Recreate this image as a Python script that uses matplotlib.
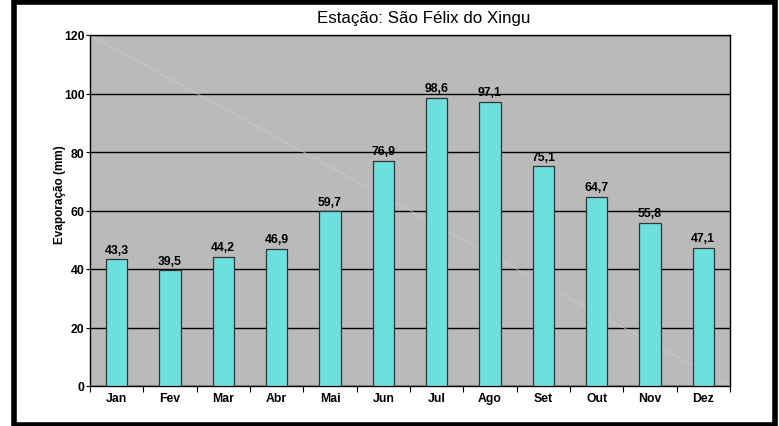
import matplotlib
matplotlib.use("Agg")
import matplotlib.pyplot as plt
from matplotlib.patches import Rectangle

months = ["Jan", "Fev", "Mar", "Abr", "Mai", "Jun", "Jul", "Ago", "Set", "Out", "Nov", "Dez"]
values = [43.3, 39.5, 44.2, 46.9, 59.7, 76.9, 98.6, 97.1, 75.1, 64.7, 55.8, 47.1]
labels = ["43,3", "39,5", "44,2", "46,9", "59,7", "76,9", "98,6", "97,1", "75,1", "64,7", "55,8", "47,1"]
yticks = [0, 20, 40, 60, 80, 100, 120]

plt.rcParams['font.family'] = ['Liberation Sans', 'DejaVu Sans']

W, H = 779, 427
fig = plt.figure(figsize=(W / 100, H / 100), dpi=100)
fig.patch.set_facecolor("white")

# outer black frame
fig.patches.append(Rectangle((14 / W, 1.5 / H), (775 - 14) / W, (H - 4) / H, transform=fig.transFigure,
                             fill=False, edgecolor="black", linewidth=4.0, zorder=10))

left, right, top, bottom = 90, 730, 36, 387
ax = fig.add_axes([left / W, 1 - bottom / H, (right - left) / W, (bottom - top) / H])
ax.set_facecolor("#BABABA")

x = list(range(len(months)))
ax.set_xlim(-0.5, len(months) - 0.5)
ax.set_ylim(0, 120)

# faint diagonal artifact
ax.plot([0, 1], [1, 0], transform=ax.transAxes, color="#CDCDCD", lw=0.5, zorder=1)

ax.set_yticks(yticks)
ax.yaxis.grid(True, color="black", linewidth=1.0, zorder=1.5)
ax.set_axisbelow(True)

bars = ax.bar(x, values, width=0.4, color="#6EDFDF", edgecolor="#333333", linewidth=0.9, zorder=3)
for xi, v, lab in zip(x, values, labels):
    ax.text(xi, v + 1.3, lab, ha="center", va="bottom", fontsize=8.8, fontweight="bold", zorder=4)

ax.set_xticks(x)
ax.set_xticklabels(months, fontsize=8.8, fontweight="bold")
ax.tick_params(axis="x", length=0, pad=4)
# minor ticks between categories
ax.set_xticks([i - 0.5 for i in range(len(months) + 1)], minor=True)
ax.tick_params(axis="x", which="minor", length=4, width=0.8, direction="out")
ax.tick_params(axis="y", length=3, width=0.8, labelsize=8.8, pad=1)
for lab in ax.get_yticklabels():
    lab.set_fontweight("bold")

for s in ax.spines.values():
    s.set_linewidth(1.0)
    s.set_color("black")

fig.text(60 / W, 1 - 195 / H, "Evaporação (mm)", rotation=90, ha="center", va="center",
         fontsize=8.5, fontweight="bold")
fig.text(424 / W, 1 - 19 / H, "Estação: São Félix do Xingu", ha="center", va="center", fontsize=12.2)

fig.savefig("out.png", dpi=100)
